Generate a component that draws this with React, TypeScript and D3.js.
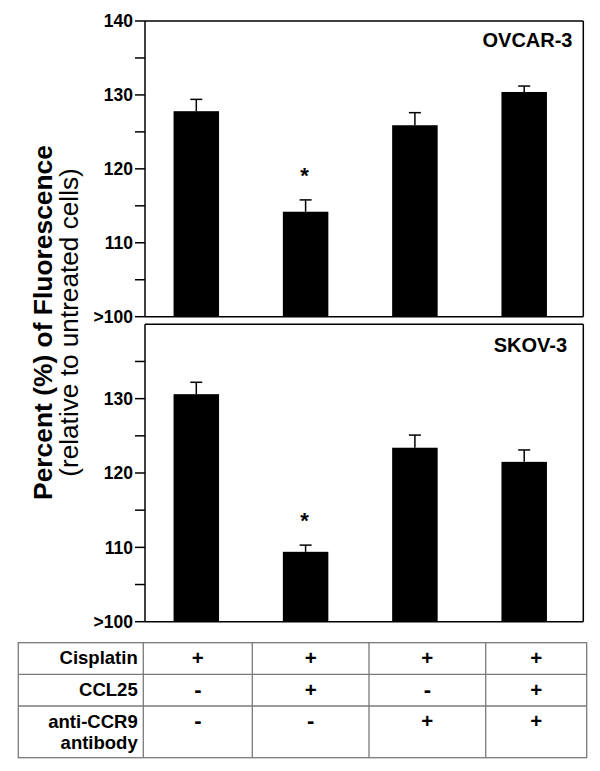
import React from 'react';
import * as d3 from 'd3';

// ---- data ----
const conditions = ['A', 'B', 'C', 'D'];
const ovcarMeans = [127.8, 114.2, 125.9, 130.4];
const ovcarErrors = [1.6, 1.6, 1.7, 0.8];
const skovMeans = [130.6, 109.4, 123.4, 121.5];
const skovErrors = [1.6, 0.9, 1.7, 1.6];
const significant = [false, true, false, false];
const yTicks = [100, 105, 110, 115, 120, 125, 130, 135, 140];
const yMajorLabels: Record<number, string> = { 100: '>100', 110: '110', 120: '120', 130: '130', 140: '140' };
const rowLabels = [['Cisplatin'], ['CCL25'], ['anti-CCR9', 'antibody']];
const cisplatinRow = ['+', '+', '+', '+'];
const ccl25Row = ['-', '+', '-', '+'];
const antiCCR9Row = ['-', '-', '+', '+'];
const tableRows = [cisplatinRow, ccl25Row, antiCCR9Row];

const FONT = '"Liberation Sans", Arial, Helvetica, sans-serif';

// ---- layout ----
const AX_LEFT = 145;
const AX_RIGHT = 583.3;
const BAR_W = 45.5;
const panels = [
  { name: 'OVCAR-3', means: ovcarMeans, errors: ovcarErrors, top: 21, bottom: 316.7, showTop: true, labelX: 572.5, labelDy: 25.7 },
  { name: 'SKOV-3', means: skovMeans, errors: skovErrors, top: 324.3, bottom: 621.7, showTop: false, labelX: 567, labelDy: 27.4 },
];
const tableLeft = 18.3;
const tableCols = [143.3, 252.3, 369, 485.7, 586.7];
const tableRowsY = [642.7, 674.3, 706, 757.7];

export default function App() {
  const x = d3.scalePoint<string>().domain(conditions).range([196.3, 524.2]);
  return (
    <div style={{ position: 'absolute', left: 0, top: 0 }}>
      <svg width={600} height={771} style={{ display: 'block', background: '#fff' }} fontFamily={FONT}>
        <rect x={0} y={0} width={600} height={771} fill="#fff" />
        {/* Y title */}
        <text
          transform={`translate(51.5,322.5) rotate(-90)`}
          textAnchor="middle"
          fontWeight="bold"
          fontSize={26.4}
          fill="#000"
        >
          Percent (%) of Fluorescence
        </text>
        <text transform={`translate(77.5,322.5) rotate(-90)`} textAnchor="middle" fontSize={26.2} fill="#000">
          (relative to untreated cells)
        </text>
        {panels.map((p, pi) => {
          const y = d3.scaleLinear().domain([100, 140]).range([p.bottom, p.top]);
          return (
            <g key={pi}>
              {/* bars */}
              {conditions.map((c, i) => {
                const cx = x(c)!;
                const yv = y(p.means[i]);
                const ye = y(p.means[i] + p.errors[i]);
                return (
                  <g key={c}>
                    <rect x={cx - BAR_W / 2} y={yv} width={BAR_W} height={p.bottom - yv} fill="#000" />
                    <line x1={cx} x2={cx} y1={yv} y2={ye} stroke="#000" strokeWidth={1.5} />
                    <line x1={cx - 6} x2={cx + 6} y1={ye} y2={ye} stroke="#000" strokeWidth={1.5} />
                    {significant[i] && (
                      <text x={cx - 1} y={ye - 17} textAnchor="middle" fontWeight="bold" fontSize={22} fill="#000">
                        *
                      </text>
                    )}
                  </g>
                );
              })}
              {/* frame */}
              <line x1={AX_LEFT} x2={AX_LEFT} y1={p.top} y2={p.bottom} stroke="#000" strokeWidth={1.5} />
              <line x1={AX_LEFT} x2={AX_RIGHT} y1={p.top} y2={p.top} stroke="#000" strokeWidth={1.5} />
              <line x1={AX_RIGHT} x2={AX_RIGHT} y1={p.top} y2={p.bottom} stroke="#000" strokeWidth={1.5} />
              <line x1={AX_LEFT} x2={AX_RIGHT} y1={p.bottom} y2={p.bottom} stroke="#000" strokeWidth={1.5} />
              {/* ticks */}
              {yTicks
                .filter((t) => p.showTop || t !== 140)
                .map((t) => (
                  <g key={t}>
                    <line x1={AX_LEFT - 10} x2={AX_LEFT} y1={y(t)} y2={y(t)} stroke="#000" strokeWidth={1.5} />
                    {yMajorLabels[t] && (
                      <text
                        x={133}
                        y={y(t)}
                        dy="0.36em"
                        textAnchor="end"
                        fontWeight="bold"
                        fontSize={17.5}
                        fill="#000"
                      >
                        {yMajorLabels[t]}
                      </text>
                    )}
                  </g>
                ))}
              <text x={p.labelX} y={p.top + p.labelDy} textAnchor="end" fontWeight="bold" fontSize={20} fill="#000">
                {p.name}
              </text>
            </g>
          );
        })}
        {/* table */}
        <g>
          <rect
            x={tableLeft}
            y={tableRowsY[0]}
            width={tableCols[tableCols.length - 1] - tableLeft}
            height={tableRowsY[tableRowsY.length - 1] - tableRowsY[0]}
            fill="none"
            stroke="#7a7a7a"
            strokeWidth={1.3}
          />
          {tableRowsY.slice(1, -1).map((ry, i) => (
            <line key={i} x1={tableLeft} x2={tableCols[tableCols.length - 1]} y1={ry} y2={ry} stroke="#7a7a7a" strokeWidth={1.3} />
          ))}
          {tableCols.slice(0, -1).map((cx, i) => (
            <line key={i} x1={cx} x2={cx} y1={tableRowsY[0]} y2={tableRowsY[tableRowsY.length - 1]} stroke="#7a7a7a" strokeWidth={1.3} />
          ))}
          {rowLabels.map((lines, ri) => (
            <text key={ri} textAnchor="end" fontWeight="bold" fontSize={18.5} fill="#000">
              {lines.map((ln, li) => (
                <tspan key={li} x={137.7} y={tableRowsY[ri] + 21.6 + li * 21.8}>
                  {ln}
                </tspan>
              ))}
            </text>
          ))}
          {tableRows.map((row, ri) =>
            row.map((s, ci) => (
              <text
                key={`${ri}-${ci}`}
                x={(tableCols[ci] + tableCols[ci + 1]) / 2}
                y={tableRowsY[ri] + 22.3}
                textAnchor="middle"
                fontWeight="bold"
                fontSize={s === '+' ? 20.5 : 22}
                fill="#000"
              >
                {s}
              </text>
            ))
          )}
        </g>
      </svg>
    </div>
  );
}
